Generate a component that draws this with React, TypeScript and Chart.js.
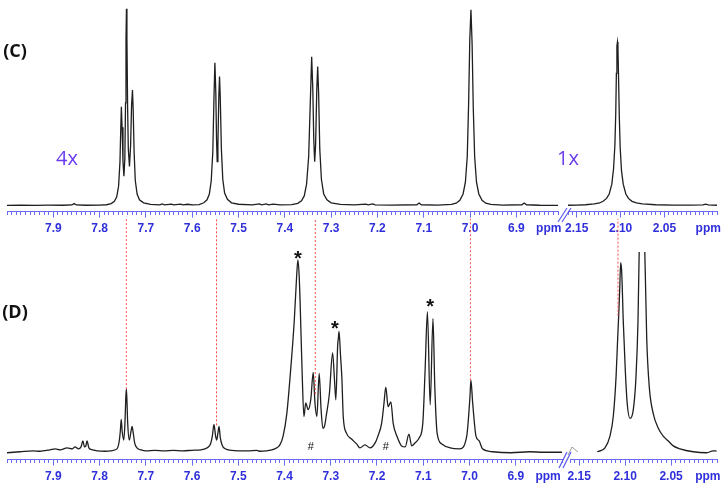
import { useEffect, useRef } from 'react';
import { Chart, registerables } from 'chart.js';

Chart.register(...registerables);

// ---------------- data (ppm, intensity above baseline) ----------------
const LEFT_TICK_LABELS = [7.9, 7.8, 7.7, 7.6, 7.5, 7.4, 7.3, 7.2, 7.1, 7.0, 6.9];
const RIGHT_TICK_LABELS = [2.15, 2.1, 2.05];
const UNIT_LABEL = 'ppm';

// Panel (C), aromatic region (shown 4x)
const C_AROMATIC: [number, number][] = [
  [8.0, 0.4], [7.97, 0.6], [7.94, 0.4], [7.91, 0.6], [7.88, 0.5], [7.86, 0.8], [7.855, 2.2], [7.85, 0.8],
  [7.83, 0.5], [7.8, 0.7], [7.785, 1.0], [7.775, 2.2], [7.768, 4.5], [7.763, 9], [7.759, 20], [7.756, 45],
  [7.7545, 75], [7.753, 101], [7.7515, 80], [7.7495, 45], [7.7475, 30], [7.7455, 48], [7.744, 105],
  [7.743, 170], [7.742, 201], [7.741, 172], [7.7395, 100], [7.738, 58], [7.7355, 40], [7.733, 62],
  [7.731, 102], [7.729, 118], [7.7275, 98], [7.7255, 55], [7.723, 26], [7.719, 12], [7.714, 6], [7.705, 3],
  [7.69, 1.4], [7.67, 0.9], [7.665, 1.8], [7.66, 0.9], [7.645, 1.6], [7.64, 0.8], [7.625, 1.7], [7.62, 0.9],
  [7.61, 1.5], [7.6, 0.8], [7.585, 1.2], [7.575, 3], [7.568, 6], [7.563, 12], [7.559, 25], [7.5555, 55],
  [7.553, 110], [7.551, 146], [7.549, 115], [7.5475, 68], [7.546, 45], [7.5445, 62], [7.5425, 112],
  [7.541, 132], [7.5395, 112], [7.537, 58], [7.534, 27], [7.53, 13], [7.524, 6.5], [7.515, 3], [7.5, 1.5],
  [7.47, 0.8], [7.455, 1.8], [7.45, 0.9], [7.44, 1.8], [7.435, 0.9], [7.425, 1.6], [7.41, 0.8], [7.385, 1.2],
  [7.372, 2.5], [7.364, 5], [7.358, 10], [7.353, 22], [7.3485, 50], [7.345, 105], [7.342, 152],
  [7.3395, 118], [7.3375, 68], [7.3355, 45], [7.3335, 62], [7.331, 118], [7.329, 142], [7.327, 115],
  [7.3245, 58], [7.321, 27], [7.316, 12], [7.309, 6], [7.3, 3], [7.28, 1.3], [7.25, 0.8], [7.225, 1.6],
  [7.22, 0.8], [7.21, 1.8], [7.205, 0.8], [7.17, 0.6], [7.115, 1.0], [7.11, 2.8], [7.105, 1.0], [7.07, 0.7],
  [7.04, 1.3], [7.03, 2.6], [7.022, 5.5], [7.015, 12], [7.01, 24], [7.006, 50], [7.003, 105], [7.0005, 170],
  [6.998, 200], [6.9955, 165], [6.993, 100], [6.99, 50], [6.986, 24], [6.981, 12], [6.974, 5.5], [6.966, 2.6],
  [6.955, 1.3], [6.93, 0.7], [6.888, 1.0], [6.883, 2.8], [6.878, 1.0], [6.85, 0.5], [6.81, 0.4],
];

// Panel (C), methyl region (shown 1x)
const C_METHYL: [number, number][] = [
  [2.16, 0.5], [2.15, 0.7], [2.14, 1.0], [2.13, 1.8], [2.124, 2.8], [2.12, 4.5], [2.116, 7.5], [2.113, 12],
  [2.11, 22], [2.108, 38], [2.1065, 62], [2.1055, 95], [2.1048, 135], [2.1042, 163], [2.1036, 167],
  [2.103, 160], [2.1023, 130], [2.1015, 92], [2.1005, 60], [2.099, 36], [2.097, 22], [2.094, 12],
  [2.091, 7.5], [2.087, 4.5], [2.082, 2.8], [2.075, 1.8], [2.06, 1.0], [2.04, 0.6], [2.02, 0.7],
  [2.006, 0.8], [2.003, 1.6], [2.0, 0.8], [1.99, 0.5],
];

// Panel (D), aromatic region
const D_AROMATIC: [number, number][] = [
  [8.0, 0], [7.972, 1], [7.944, 2], [7.929, 1.5], [7.915, 2.5], [7.907, 3], [7.896, 4], [7.885, 3],
  [7.87, 5], [7.859, 4], [7.853, 6], [7.846, 4], [7.84, 6], [7.836, 12], [7.8325, 6], [7.8295, 7],
  [7.827, 12], [7.823, 5], [7.815, 3], [7.805, 2], [7.788, 1.5], [7.775, 2], [7.766, 3], [7.76, 6],
  [7.757, 13], [7.755, 22], [7.753, 34], [7.751, 22], [7.7475, 13], [7.745, 30], [7.7432, 55], [7.742, 65],
  [7.7408, 55], [7.739, 30], [7.7355, 13], [7.7325, 20], [7.7295, 27], [7.727, 20], [7.724, 10], [7.719, 5],
  [7.71, 3], [7.7, 2], [7.68, 2.5], [7.66, 2], [7.64, 2.5], [7.62, 2], [7.6, 2.5], [7.58, 3], [7.567, 5],
  [7.56, 9], [7.556, 17], [7.5525, 29], [7.549, 17], [7.5465, 13], [7.544, 20], [7.5415, 27], [7.539, 16],
  [7.535, 8], [7.528, 4], [7.515, 2.5], [7.5, 2], [7.48, 2], [7.46, 2.5], [7.453, 1.5], [7.44, 2],
  [7.421, 4], [7.41, 8], [7.403, 17], [7.395, 40], [7.388, 77], [7.379, 134], [7.374, 178], [7.371, 197],
  [7.368, 178], [7.366, 150], [7.362, 84], [7.358, 37], [7.354, 51], [7.349, 44], [7.343, 55], [7.338, 82],
  [7.334, 50], [7.33, 37], [7.325, 81], [7.321, 45], [7.317, 25], [7.313, 28], [7.31, 37], [7.303, 60],
  [7.296, 102], [7.292, 75], [7.289, 54], [7.285, 110], [7.2835, 117], [7.282, 124], [7.279, 100],
  [7.276, 77], [7.273, 37], [7.266, 20], [7.255, 14], [7.244, 9], [7.237, 5], [7.226, 8], [7.215, 5],
  [7.204, 10], [7.198, 17], [7.19, 30], [7.185, 50], [7.181, 67], [7.176, 47], [7.17, 52], [7.165, 30],
  [7.157, 17], [7.147, 7], [7.139, 6], [7.131, 19], [7.125, 7], [7.118, 10], [7.109, 15], [7.101, 30],
  [7.096, 84], [7.091, 144], [7.085, 49], [7.079, 137], [7.075, 67], [7.07, 20], [7.06, 9], [7.042, 5],
  [7.021, 4], [7.006, 17], [6.999, 57], [6.997, 74], [6.993, 50], [6.986, 17], [6.979, 12], [6.972, 4],
  [6.95, 1], [6.91, 0], [6.87, 1], [6.84, 0.5], [6.8, 0.5],
];

// Panel (D), methyl region (second peak runs off the top)
const D_METHYL: [number, number][] = [
  [2.1303, 1], [2.1219, 5], [2.1165, 17], [2.1129, 37], [2.1099, 77], [2.1081, 117], [2.107, 140],
  [2.1059, 167], [2.1048, 194], [2.1037, 184], [2.102, 134], [2.0998, 84], [2.0977, 50], [2.0947, 35],
  [2.0911, 44], [2.0882, 77], [2.086, 134], [2.0846, 210], [2.0817, 420], [2.0787, 210], [2.0765, 117],
  [2.0737, 67], [2.0694, 40], [2.0639, 25], [2.0585, 17], [2.053, 12], [2.0476, 7], [2.0403, 4],
  [2.0258, 1], [2.0112, 0], [2.0041, 2], [2.0004, 1.7],
];

// markers (ppm, height of text baseline)
const STAR_PPM = [7.371, 7.291, 7.085];
const STAR_H = [192, 120, 143];
const HASH_PPM = [7.343, 7.181];
const HASH_H = [3, 3];

// red connector lines (ppm, height where they end in panel D)
const LINK_PPM_LEFT = [7.742, 7.547, 7.3335, 6.998];
const LINK_END_LEFT = [65, 28, 60, 74];
const LINK_PPM_RIGHT = [2.1078];
const LINK_END_RIGHT = [140];
const LINK_TOP = 239;

// ---------------- styling ----------------
const AXIS_COLOR = '#6b6bf2';
const LABEL_COLOR = '#2f2fdc';
const TRACE_COLOR = '#1f1f1f';
const LINK_COLOR = '#ff4a4a';
const FACTOR_COLOR = '#6a3cf0';
const TICK_FONT = "'Liberation Sans Narrow', 'Liberation Sans', Arial, sans-serif";

const near = (a: number, b: number) => Math.abs(a - b) < 1e-6;

function xScale(min: number, max: number, step: number, labels: number[], digits: number, unitAt: number) {
  const labeled = (v: number) => labels.some((l) => near(l, v));
  return {
    type: 'linear',
    min,
    max,
    reverse: true,
    border: { display: true, color: AXIS_COLOR, width: 1 },
    grid: {
      drawOnChartArea: false,
      drawTicks: true,
      tickLength: 6,
      tickWidth: 1,
      tickColor: AXIS_COLOR,
      tickBorderDash: (c: any) => (c && c.tick && labeled(c.tick.value) ? [] : [3, 20]),
    },
    ticks: {
      stepSize: step,
      maxTicksLimit: 1000,
      autoSkip: false,
      maxRotation: 0,
      minRotation: 0,
      includeBounds: false,
      padding: 4,
      color: LABEL_COLOR,
      font: { family: TICK_FONT, size: 12, weight: 'bold' },
      callback: (v: any) => {
        const n = Number(v);
        if (labeled(n)) return n.toFixed(digits);
        if (near(n, unitAt)) return UNIT_LABEL;
        return '';
      },
    },
  };
}

type Txt = { text: string; x: number; y: number; font: string; color: string; data?: boolean };
type Seg = { pts: [number, number][]; color: string; width: number };

function decor(texts: Txt[], segs: Seg[]) {
  return {
    id: 'decor',
    afterDraw(chart: any) {
      const ctx = chart.ctx;
      ctx.save();
      for (const s of segs) {
        ctx.beginPath();
        ctx.strokeStyle = s.color;
        ctx.lineWidth = s.width;
        s.pts.forEach(([x, y], i) => (i ? ctx.lineTo(x, y) : ctx.moveTo(x, y)));
        ctx.stroke();
      }
      for (const t of texts) {
        let x = t.x;
        let y = t.y;
        if (t.data) {
          x = chart.scales.x.getPixelForValue(t.x);
          y = chart.scales.y.getPixelForValue(t.y);
        }
        ctx.font = t.font;
        ctx.fillStyle = t.color;
        ctx.textAlign = 'center';
        ctx.textBaseline = 'alphabetic';
        ctx.fillText(t.text, x, y);
      }
      ctx.restore();
    },
  };
}

const trace = (pts: [number, number][], smooth: boolean) => ({
  data: pts.map(([x, y]) => ({ x, y })),
  borderColor: TRACE_COLOR,
  borderWidth: 1.3,
  pointRadius: 0,
  fill: false,
  tension: 0,
  cubicInterpolationMode: smooth ? 'monotone' : 'default',
});

const links = (ppm: number[], ends: number[]) =>
  ppm.map((p, i) => ({
    data: [
      { x: p, y: ends[i] },
      { x: p, y: LINK_TOP },
    ],
    borderColor: LINK_COLOR,
    borderWidth: 1,
    borderDash: [2, 2],
    pointRadius: 0,
    fill: false,
    clip: false,
  }));

function makeConfig(datasets: any[], x: any, yMin: number, yMax: number, pad: any, plugin: any) {
  return {
    type: 'line',
    data: { datasets },
    options: {
      animation: false,
      responsive: false,
      maintainAspectRatio: false,
      events: [],
      layout: { padding: pad },
      plugins: { legend: { display: false }, tooltip: { enabled: false } },
      scales: { x, y: { type: 'linear', display: false, min: yMin, max: yMax } },
    },
    plugins: [plugin],
  } as any;
}

const BREAK_BLUE = '#5a5af0';

export default function App() {
  const cl = useRef<HTMLCanvasElement>(null);
  const cr = useRef<HTMLCanvasElement>(null);
  const dl = useRef<HTMLCanvasElement>(null);
  const dr = useRef<HTMLCanvasElement>(null);

  useEffect(() => {
    const charts: Chart[] = [];
    const labelFont = "bold 18px 'Open Sans', sans-serif";
    const factorFont = "20px 'Open Sans', sans-serif";

    charts.push(
      new Chart(
        cl.current!,
        makeConfig(
          [trace(C_AROMATIC, false)],
          xScale(6.81, 8.0, 0.01, LEFT_TICK_LABELS, 1, 6.83),
          -6,
          210,
          { left: 7, right: 8, top: 0, bottom: 0 },
          decor(
            [
              { text: '(C)', x: 15, y: 57, font: labelFont, color: '#111' },
              { text: '4x', x: 67, y: 165, font: factorFont, color: FACTOR_COLOR },
            ],
            []
          )
        )
      )
    );

    charts.push(
      new Chart(
        cr.current!,
        makeConfig(
          [trace(C_METHYL, false)],
          xScale(1.99, 2.16, 0.005, RIGHT_TICK_LABELS, 2, 2.0),
          -6,
          210,
          { left: 28, right: 6, top: 0, bottom: 0 },
          decor(
            [{ text: '1x', x: 28, y: 165, font: factorFont, color: FACTOR_COLOR }],
            [
              { pts: [[18, 222], [27, 208]], color: BREAK_BLUE, width: 1.2 },
              { pts: [[22, 222], [31, 208]], color: BREAK_BLUE, width: 1.2 },
            ]
          )
        )
      )
    );

    const starTexts: Txt[] = STAR_PPM.map((p, i) => ({
      text: '*',
      x: p,
      y: STAR_H[i],
      font: "bold 20px 'Liberation Sans', sans-serif",
      color: '#111',
      data: true,
    }));
    const hashTexts: Txt[] = HASH_PPM.map((p, i) => ({
      text: '#',
      x: p,
      y: HASH_H[i],
      font: "11px 'Liberation Sans', sans-serif",
      color: '#111',
      data: true,
    }));

    charts.push(
      new Chart(
        dl.current!,
        makeConfig(
          [...links(LINK_PPM_LEFT, LINK_END_LEFT), trace(D_AROMATIC, true)],
          xScale(6.8, 8.0, 0.01, LEFT_TICK_LABELS, 1, 6.83),
          -7,
          207,
          { left: 7, right: 4, top: 35, bottom: 0 },
          decor([{ text: '(D)', x: 15, y: 103, font: labelFont, color: '#111' }, ...starTexts, ...hashTexts], [])
        )
      )
    );

    charts.push(
      new Chart(
        dr.current!,
        makeConfig(
          [...links(LINK_PPM_RIGHT, LINK_END_RIGHT), trace(D_METHYL, true)],
          xScale(2.0, 2.16, 0.005, RIGHT_TICK_LABELS, 2, 2.01),
          -7,
          205,
          { left: 30, right: 6, top: 37, bottom: 0 },
          decor(
            [],
            [
              { pts: [[19, 253], [27, 237]], color: BREAK_BLUE, width: 1.2 },
              { pts: [[23, 253], [31, 237]], color: BREAK_BLUE, width: 1.2 },
              { pts: [[28, 240], [32, 232], [38, 237]], color: '#9a9a9a', width: 1 },
            ]
          )
        )
      )
    );

    return () => charts.forEach((c) => c.destroy());
  }, []);

  const abs = (left: number, top: number) => ({ position: 'absolute' as const, left, top });

  return (
    <div style={{ position: 'absolute', left: 0, top: 0, width: 723, height: 490, background: '#fff', overflow: 'hidden' }}>
      <canvas ref={cl} width={566} height={240} style={abs(0, 0)} />
      <canvas ref={cr} width={183} height={240} style={abs(540, 0)} />
      <canvas ref={dl} width={566} height={273} style={abs(0, 215)} />
      <canvas ref={dr} width={183} height={273} style={abs(540, 215)} />
    </div>
  );
}
